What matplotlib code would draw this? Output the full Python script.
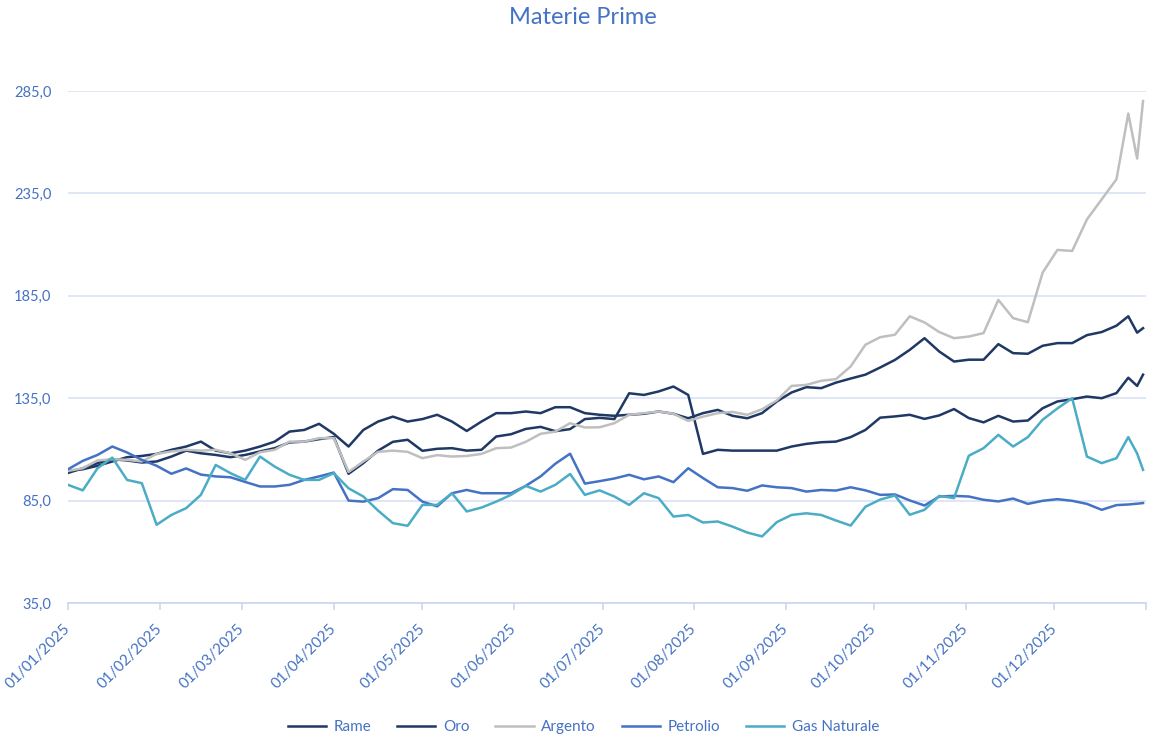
import pandas as pd
import matplotlib
matplotlib.use("Agg")
import matplotlib.pyplot as plt
import matplotlib.dates as mdates
from matplotlib.ticker import FuncFormatter

# Dates: every 5 days, plus the last few trading days of December
dates = list(pd.date_range("2025-01-01", "2025-12-22", freq="5D")) + list(
    pd.to_datetime(["2025-12-26", "2025-12-29", "2025-12-31"])
)

rame = [98.5, 100.8, 103.3, 105.2, 104.6, 103.6, 104.1, 106.5, 109.4, 108.1,
        107.3, 106.2, 107.3, 109.0, 110.6, 113.4, 113.8, 115.0, 116.0, 98.1,
        103.3, 109.4, 113.7, 114.7, 109.3, 110.3, 110.6, 109.4, 109.8, 116.3,
        117.4, 120.0, 121.0, 118.9, 119.9, 124.8, 125.4, 124.8, 137.4, 136.6,
        138.3, 140.7, 136.6, 107.8, 109.8, 109.4, 109.4, 109.4, 109.4, 111.4,
        112.7, 113.5, 113.8, 116.0, 119.5, 125.5, 126.1, 126.9, 124.9, 126.6,
        129.7, 125.3, 123.2, 126.4, 123.6, 124.1, 130.1, 133.4, 134.5, 135.8,
        135.0, 137.5, 145.0, 141.0, 146.5]

oro = [99.5, 100.3, 102.0, 104.1, 106.2, 106.8, 107.8, 109.8, 111.4, 113.8,
       109.4, 108.1, 109.4, 111.4, 113.8, 118.7, 119.5, 122.5, 117.6, 111.4,
       119.5, 123.6, 126.0, 123.6, 124.8, 126.9, 123.6, 119.0, 123.6, 127.7,
       127.7, 128.5, 127.7, 130.6, 130.6, 127.7, 126.9, 126.4, 126.9, 127.4,
       128.5, 127.4, 125.2, 127.7, 129.3, 126.4, 125.2, 127.7, 133.4, 137.8,
       140.4, 139.9, 142.6, 144.6, 146.5, 150.0, 153.7, 158.6, 164.3, 157.8,
       152.9, 153.8, 153.8, 161.4, 157.0, 156.7, 160.6, 161.9, 161.9, 165.8,
       167.3, 170.4, 175.0, 167.0, 169.2]

argento = [99.5, 100.8, 104.6, 105.2, 104.9, 104.1, 107.8, 109.0, 109.8, 109.4,
           109.8, 108.1, 104.9, 108.6, 109.8, 113.8, 113.8, 115.5, 115.5, 99.0,
           104.1, 108.8, 109.4, 108.8, 105.7, 107.2, 106.5, 106.8, 107.8, 110.6,
           110.9, 113.7, 117.6, 118.7, 122.8, 120.7, 120.8, 122.8, 126.9, 127.7,
           128.5, 127.4, 123.9, 126.0, 127.7, 128.3, 126.9, 129.6, 133.9, 141.0,
           141.5, 143.5, 144.3, 150.5, 161.1, 164.8, 166.0, 175.0, 172.0, 167.3,
           164.3, 165.1, 166.8, 183.0, 174.1, 172.1, 196.3, 207.4, 206.9, 222.3,
           232.1, 241.9, 274.0, 252.0, 280.1]

petrolio = [100.3, 104.4, 107.3, 111.4, 108.5, 104.9, 102.0, 98.1, 100.7, 97.7,
            96.8, 96.4, 94.1, 91.9, 91.9, 92.7, 95.1, 96.8, 98.7, 85.0,
            84.5, 86.2, 90.6, 90.2, 84.5, 82.2, 88.6, 90.2, 88.6, 88.6,
            88.6, 92.2, 96.8, 103.0, 107.9, 93.3, 94.5, 95.8, 97.6, 95.4,
            96.8, 94.0, 100.8, 96.0, 91.5, 91.1, 89.8, 92.4, 91.5, 91.1,
            89.4, 90.2, 89.9, 91.5, 90.0, 87.8, 88.0, 85.1, 82.6, 87.0,
            87.3, 87.0, 85.4, 84.6, 86.0, 83.4, 84.9, 85.7, 84.9, 83.4,
            80.5, 82.8, 83.1, 83.5, 83.8]

gas_naturale = [92.7, 90.0, 100.8, 106.0, 95.1, 93.5, 73.2, 78.0, 81.3, 87.8,
                102.4, 98.4, 95.1, 106.5, 101.6, 97.6, 95.1, 95.1, 98.4, 91.0,
                87.0, 80.1, 74.0, 72.7, 82.9, 82.9, 88.6, 79.7, 81.6, 84.5,
                87.8, 92.2, 89.4, 92.7, 98.0, 87.8, 90.0, 87.0, 82.9, 88.6,
                86.2, 77.2, 78.0, 74.3, 74.8, 72.3, 69.4, 67.5, 74.5, 78.0,
                78.8, 78.0, 75.3, 72.8, 82.0, 85.5, 87.5, 78.1, 80.5, 87.3,
                86.2, 106.9, 110.6, 117.1, 111.4, 116.0, 124.5, 130.0, 135.0, 106.5,
                103.3, 105.7, 116.0, 108.0, 100.0]

series = [
    ("Rame", rame, "#1F3864"),
    ("Oro", oro, "#1F3864"),
    ("Argento", argento, "#BFBFBF"),
    ("Petrolio", petrolio, "#4472C4"),
    ("Gas Naturale", gas_naturale, "#4BACC6"),
]

y_ticks = [35, 85, 135, 185, 235, 285]

text_blue = "#4472C4"
grid_blue = "#D9E2F3"

plt.rcParams["font.family"] = ["Lato", "DejaVu Sans"]

fig = plt.figure(figsize=(11.49, 7.39), dpi=100)
ax = fig.add_axes([68 / 1149, 1 - 603 / 739, (1146 - 68) / 1149, (603 - 91) / 739])

for name, values, color in series:
    ax.plot(dates, values, color=color, linewidth=1.8, label=name)

ax.set_ylim(35, 285)
ax.set_yticks(y_ticks)
ax.yaxis.set_major_formatter(FuncFormatter(lambda v, p: f"{v:.1f}".replace(".", ",")))
ax.grid(axis="y", color=grid_blue, linewidth=1.2)
ax.set_axisbelow(True)

ax.set_xlim(pd.Timestamp("2025-01-01"), pd.Timestamp("2026-01-01"))
month_ticks = list(pd.date_range("2025-01-01", "2025-12-01", freq="MS"))
ax.set_xticks(month_ticks)
ax.xaxis.set_major_formatter(mdates.DateFormatter("%d/%m/%Y"))
ax.set_xticks([pd.Timestamp("2026-01-01")], minor=True)

for side in ["top", "right", "left"]:
    ax.spines[side].set_visible(False)
ax.spines["bottom"].set_color("#C9D7EE")
ax.spines["bottom"].set_linewidth(1.2)

ax.tick_params(axis="y", length=0, pad=12, labelsize=10.5, labelcolor=text_blue)
ax.tick_params(axis="x", which="both", length=5, color="#C9D7EE", width=1.2)
ax.tick_params(axis="x", pad=12, labelsize=11, labelcolor=text_blue)
for lbl in ax.get_xticklabels():
    lbl.set_rotation(45)
    lbl.set_ha("right")
    lbl.set_va("center")
    lbl.set_rotation_mode("anchor")

fig.text(583 / 1149, 1 - 18 / 739, "Materie Prime", ha="center", va="center",
         fontsize=17, color=text_blue)

fig.legend(loc="center", bbox_to_anchor=(583.5 / 1149, 1 - 727 / 739), ncol=5,
           frameon=False, fontsize=11, labelcolor=text_blue, handlelength=2.5,
           handletextpad=0.5, columnspacing=1.7)

fig.savefig("out.png", dpi=100)
